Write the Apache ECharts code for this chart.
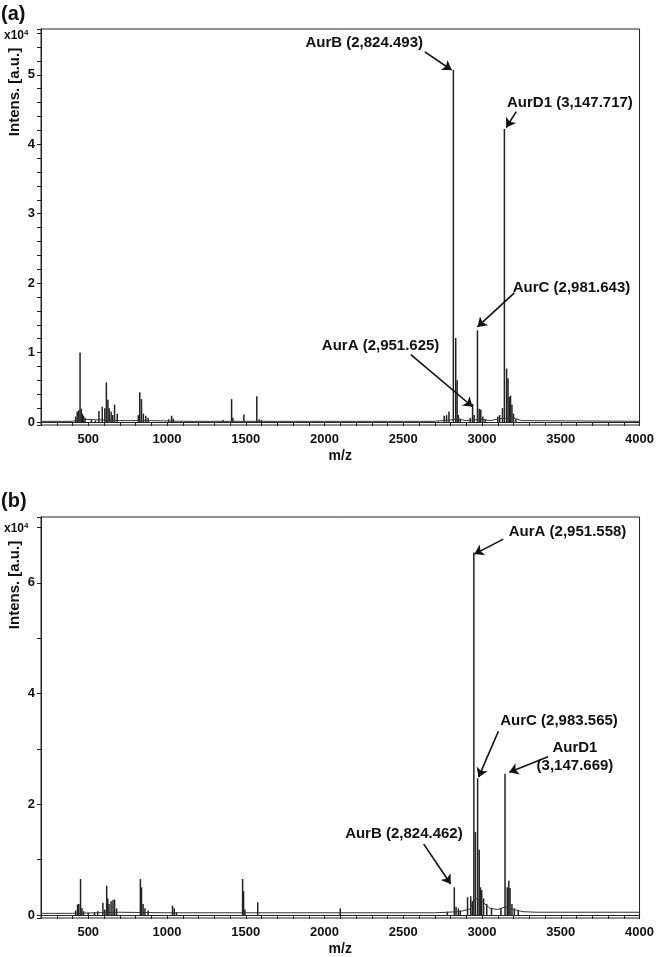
<!DOCTYPE html>
<html>
<head>
<meta charset="utf-8">
<script src="https://cdn.jsdelivr.net/npm/echarts@6/dist/echarts.min.js"></script>
<style>
  html, body { margin: 0; padding: 0; background: #fff; }
  #chart { width: 657px; height: 957px; }
</style>
</head>
<body>
<div id="chart"></div>
<script>
// panel (a) peaks: m/z and intensity (x10^4)
const mzA = [420, 430, 440, 448, 456, 463, 470, 480, 520, 545, 568, 589, 605, 615, 625, 633, 645, 655, 667, 684,
  818, 827, 838, 850, 865, 880, 1010, 1029, 1040, 1355, 1410, 1418, 1488, 1570, 1585, 1600,
  2760, 2775, 2790, 2818, 2833, 2842, 2850, 2862, 2925, 2940, 2950, 2971, 2982, 2992, 3005, 3020,
  3100, 3112, 3130, 3142, 3156, 3165, 3173, 3181, 3190, 3200, 3215];
const intA = [0.08, 0.15, 0.17, 1.0, 0.19, 0.12, 0.09, 0.06, 0.03, 0.02, 0.16, 0.22, 0.2, 0.57, 0.32, 0.2, 0.15, 0.1, 0.25, 0.12,
  0.1, 0.43, 0.33, 0.12, 0.09, 0.06, 0.04, 0.09, 0.05, 0.03, 0.33, 0.06, 0.11, 0.37, 0.04, 0.03,
  0.09, 0.1, 0.15, 5.07, 1.21, 0.6, 0.1, 0.05, 0.06, 0.26, 0.1, 1.32, 0.19, 0.18, 0.08, 0.04,
  0.08, 0.1, 0.2, 4.22, 0.77, 0.63, 0.36, 0.38, 0.25, 0.12, 0.04];
const baseMzA = [200, 400, 450, 700, 900, 1100, 2700, 2800, 2850, 2900, 3000, 3050, 3120, 3200, 3250, 4000];
const baseIntA = [0.01, 0.01, 0.04, 0.02, 0.02, 0.01, 0.01, 0.03, 0.04, 0.02, 0.04, 0.02, 0.05, 0.06, 0.02, 0.01];

// panel (b)
const mzB = [420, 432, 440, 451, 460, 470, 500, 540, 560, 593, 605, 617, 624, 632, 645, 657, 667, 680,
  831, 838, 848, 860, 880, 1035, 1046, 1060, 1480, 1486, 1495, 1576, 2100,
  2780, 2824, 2835, 2850, 2862, 2908, 2928, 2938, 2948, 2958, 2972, 2982, 2990, 2998, 3010, 3030, 3060,
  3120, 3146, 3160, 3170, 3178, 3190, 3205, 3230];
const intB = [0.08, 0.19, 0.2, 0.65, 0.12, 0.07, 0.04, 0.05, 0.07, 0.22, 0.1, 0.53, 0.3, 0.2, 0.25, 0.27, 0.28, 0.12,
  0.65, 0.5, 0.2, 0.12, 0.08, 0.17, 0.12, 0.05, 0.65, 0.43, 0.1, 0.23, 0.12,
  0.06, 0.5, 0.15, 0.12, 0.08, 0.32, 0.34, 0.25, 6.55, 1.5, 2.47, 1.18, 0.5, 0.45, 0.3, 0.2, 0.13,
  0.12, 2.55, 0.5, 0.62, 0.49, 0.2, 0.12, 0.08];
const baseMzB = [200, 400, 700, 1000, 2700, 2850, 2920, 2960, 3000, 3050, 3100, 3150, 3200, 3260, 3350, 4000];
const baseIntB = [0.03, 0.03, 0.05, 0.04, 0.04, 0.06, 0.1, 0.3, 0.25, 0.12, 0.1, 0.15, 0.1, 0.06, 0.05, 0.05];

// annotations: text, text anchor, arrow start, arrow end (m/z, intensity)
const notesA = [
  ["AurB (2,824.493)", [2252, 5.46], [2637, 5.33], [2807, 5.07]],
  ["AurD1 (3,147.717)", [3558, 4.6], [3217, 4.47], [3154, 4.24]],
  ["AurC (2,981.643)", [3568, 1.93], [3205, 1.86], [2971, 1.37]],
  ["AurA (2,951.625)", [2356, 1.1], [2548, 0.97], [2940, 0.22]]
];
const notesB = [
  ["AurA (2,951.558)", [3543, 6.92], [3135, 6.79], [2952, 6.52]],
  ["AurC (2,983.565)", [3489, 3.51], [3104, 3.32], [2978, 2.49]],
  ["AurD1\n(3,147.669)", [3590, 2.85], [3419, 2.86], [3173, 2.58]],
  ["AurB (2,824.462)", [2504, 1.46], [2630, 1.28], [2801, 0.56]]
];

const FONT = "'Liberation Sans', Arial, sans-serif";
const INK = "#222";

const chart = echarts.init(document.getElementById("chart"), null, { renderer: "canvas" });

function xAxisFor(gridIndex) {
  return {
    type: "value",
    gridIndex: gridIndex,
    min: 200,
    max: 4000,
    interval: 100,
    name: "m/z",
    nameLocation: "middle",
    nameGap: 24,
    nameTextStyle: { fontFamily: FONT, fontWeight: "bold", fontSize: 14, color: "#111" },
    axisLine: { show: true, lineStyle: { color: INK, width: 1 } },
    axisTick: { show: true, inside: false, length: 4, lineStyle: { color: INK } },
    axisLabel: {
      margin: 8,
      fontFamily: FONT,
      fontWeight: "bold",
      fontSize: 13,
      color: "#111",
      formatter: (v) => (v % 500 === 0 && v >= 500 ? String(v) : ""),
    },
    splitLine: { show: false },
  };
}

function yAxisFor(gridIndex, min, max, step, labelEvery) {
  return {
    type: "value",
    gridIndex: gridIndex,
    min: min,
    max: max,
    minInterval: step,
    maxInterval: step,
    axisLine: { show: true, lineStyle: { color: INK, width: 1 } },
    axisTick: { show: true, inside: false, length: 4, lineStyle: { color: INK } },
    axisLabel: {
      margin: 6,
      fontFamily: FONT,
      fontWeight: "bold",
      fontSize: 13,
      color: "#111",
      formatter: (v) => {
        const r = Math.round(v);
        if (Math.abs(v - r) > 1e-6) return "";
        return r % labelEvery === 0 ? String(r) : "";
      },
    },
    splitLine: { show: false },
  };
}

function seriesFor(idx, mz, inten, baseMz, baseInt, notes) {
  return [
    {
      type: "line",
      xAxisIndex: idx,
      yAxisIndex: idx,
      data: baseMz.map((m, i) => [m, baseInt[i]]),
      symbol: "none",
      lineStyle: { color: "#333", width: 1 },
      silent: true,
      markLine: {
        silent: true,
        symbol: ["none", "arrow"],
        symbolSize: 9,
        lineStyle: { color: "#111", width: 1.6, type: "solid" },
        label: { show: false },
        data: notes.map((n) => [{ coord: n[2] }, { coord: n[3] }]),
      },
      markPoint: {
        silent: true,
        symbol: "circle",
        symbolSize: 0,
        data: notes.map((n) => ({
          coord: n[1],
          label: {
            show: true,
            position: "inside",
            formatter: n[0],
            fontFamily: FONT,
            fontWeight: "bold",
            fontSize: 15,
            lineHeight: 18,
            color: "#111",
            align: "center",
          },
        })),
      },
    },
    {
      type: "bar",
      xAxisIndex: idx,
      yAxisIndex: idx,
      data: mz.map((m, i) => [m, inten[i]]),
      barWidth: 1.5,
      itemStyle: { color: "#222" },
      silent: true,
    },
  ];
}

const option = {
  backgroundColor: "#fff",
  animation: false,
  grid: [
    { left: 41, right: 14, top: 29, height: 396, show: true, borderColor: INK, borderWidth: 1, backgroundColor: "transparent" },
    { left: 41, right: 14, top: 517, height: 402, show: true, borderColor: INK, borderWidth: 1, backgroundColor: "transparent" },
  ],
  xAxis: [xAxisFor(0), xAxisFor(1)],
  yAxis: [yAxisFor(0, -0.043, 5.66, 0.2, 1), yAxisFor(1, -0.054, 7.19, 1, 2)],
  series: [
    ...seriesFor(0, mzA, intA, baseMzA, baseIntA, notesA),
    ...seriesFor(1, mzB, intB, baseMzB, baseIntB, notesB),
  ],
  graphic: [
    { type: "text", left: 1, top: 4, style: { text: "(a)", font: "bold 20px " + FONT, fill: "#111" } },
    { type: "text", left: 1, top: 491, style: { text: "(b)", font: "bold 20px " + FONT, fill: "#111" } },
    {
      type: "text", left: 4, top: 29,
      style: { text: "x10{s|4}", rich: { s: { fontSize: 8, fontWeight: "bold", verticalAlign: "top", padding: [0, 0, 6, 0] } }, font: "bold 12px " + FONT, fill: "#111" },
    },
    {
      type: "text", left: 4, top: 522,
      style: { text: "x10{s|4}", rich: { s: { fontSize: 8, fontWeight: "bold", verticalAlign: "top", padding: [0, 0, 6, 0] } }, font: "bold 12px " + FONT, fill: "#111" },
    },
    {
      type: "text", x: 15, y: 92, rotation: Math.PI / 2,
      style: { text: "Intens. [a.u.]", font: "bold 15px " + FONT, fill: "#111", align: "center", verticalAlign: "middle" },
    },
    {
      type: "text", x: 15, y: 585, rotation: Math.PI / 2,
      style: { text: "Intens. [a.u.]", font: "bold 15px " + FONT, fill: "#111", align: "center", verticalAlign: "middle" },
    },
  ],
};

chart.setOption(option);
</script>
</body>
</html>
